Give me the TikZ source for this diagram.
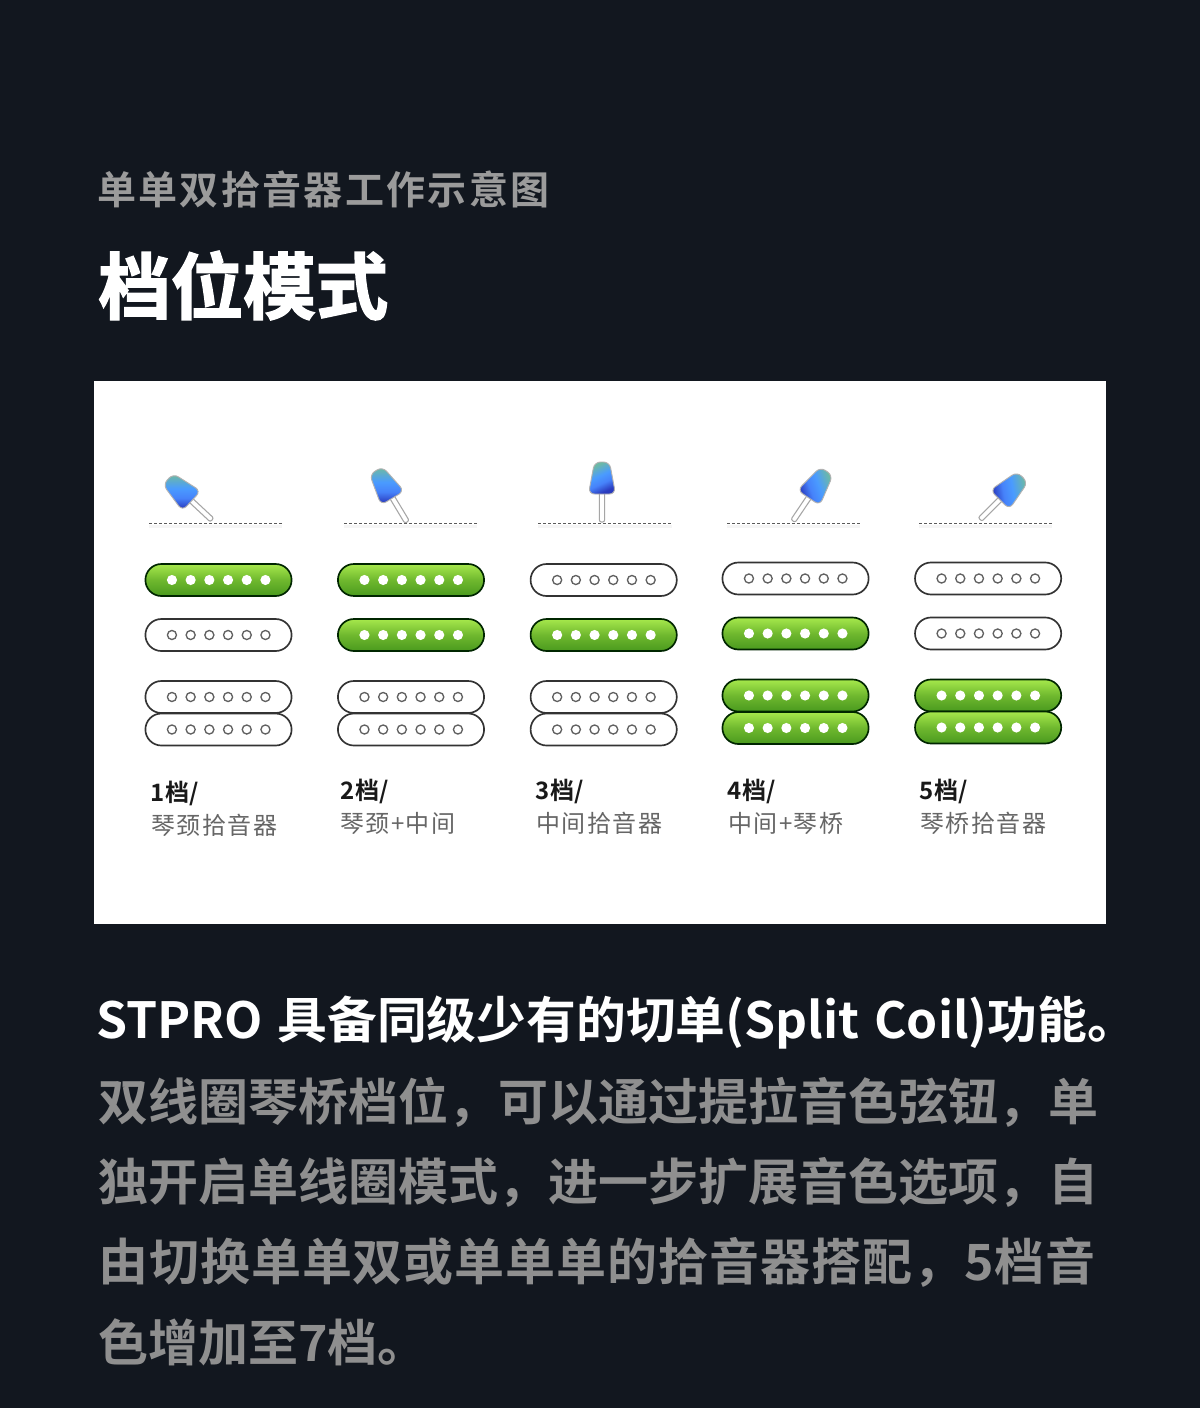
\documentclass[tikz,border=0pt]{standalone}
\usepackage{fontspec}
\setmainfont{Noto Sans CJK SC}
\newfontfamily\cjkreg{Noto Sans CJK SC}
\newfontfamily\cjkbold{Noto Sans CJK SC Bold}
\newfontfamily\cjkboldsp[LetterSpace=1.9]{Noto Sans CJK SC Bold}
\newfontfamily\cjkhead[LetterSpace=3]{Noto Sans CJK SC Bold}
\newfontfamily\cjkblack[FakeBold=2]{Noto Sans CJK SC Bold}
\newfontfamily\cjkmed[WordSpace=1.3]{Noto Sans CJK SC Bold}
\newfontfamily\cjksp[LetterSpace=6]{Noto Sans CJK SC}
\newfontfamily\cjkspb[LetterSpace=6]{Noto Sans CJK SC Bold}
\newcommand\pxs[1]{\fontsize{\the\dimexpr#1pt*3/4\relax}{\the\dimexpr#1pt*3/4\relax}\selectfont}
\definecolor{bgc}{HTML}{12171F}
\definecolor{grayt}{HTML}{8F8F8F}
\definecolor{grayh}{HTML}{9B9B9B}
\definecolor{subt}{HTML}{666666}
\definecolor{gtop}{HTML}{A6E84C}
\definecolor{gmid}{HTML}{6FB82E}
\definecolor{gbot}{HTML}{4A9A1E}
\definecolor{pedge}{HTML}{333333}
\pgfdeclareverticalshading{headgrad}{100bp}{
  rgb(0bp)=(.165,.231,.745);
  rgb(28bp)=(.165,.231,.745);
  rgb(42bp)=(.275,.51,.98);
  rgb(55bp)=(.29,.608,1);
  rgb(73bp)=(.424,.725,.651);
  rgb(100bp)=(.424,.725,.651)}
\def\onword{on}
\tikzset{
  px/.style={x=0.75pt,y=-0.75pt},
  pickupon/.style={draw=black!85!green,line width=1.25pt,top color=gtop,bottom color=gbot,middle color=gmid,rounded corners=12pt},
  pickupoff/.style={draw=pedge,line width=1.25pt,fill=white,rounded corners=12pt},
  poleon/.style={fill=white},
  poleoff/.style={draw=black!62,line width=1pt,fill=white},
  rodstyle/.style={draw=black!35,line width=0.8pt,fill=white,rounded corners=1.5pt},
  headstyle/.style={draw=black!30,line width=0.7pt,rounded corners=4.5pt,shading=headgrad},
  rail/.style={draw=black!65,line width=1.4pt,dash pattern=on 1.9pt off 1.85pt},
  railshade/.style={draw=black!4,line width=2.2pt},
  labhead/.style={anchor=west,inner sep=0pt,text=black!90},
  labsub/.style={anchor=west,inner sep=0pt,text=subt},
  bodyline/.style={anchor=west,inner sep=0pt,text=grayt},
}
\newcommand\pickup[3]{%
  \path[pickup#3] (#1-73.3,#2-16) rectangle (#1+72.9,#2+16);
  \def\pstate{#3}%
  \foreach \k in {-2.5,-1.5,-0.5,0.5,1.5,2.5}{
    \ifx\pstate\onword
      \fill[poleon] (#1+\k*18.7,#2) circle[radius=3.8pt];
    \else
      \draw[poleoff] (#1+\k*18.7,#2) circle[radius=3.4pt];
    \fi
  }%
}
\newcommand\lever[4]{% pivot x, y, rotation, shading angle
  \begin{scope}[shift={(#1,#2)},rotate=#3]
    \draw[rodstyle] (-2.6,0) -- (2.6,0) -- (2.6,-31) -- (-2.6,-31) -- cycle;
    \path[headstyle,shading angle=#4] (-13.5,-28) -- (13.5,-28) -- (7.5,-60) -- (-7.5,-60) -- cycle;
  \end{scope}%
}
\newcommand\rail[3]{%
  \draw[railshade] (#1,#3+3) -- (#2,#3+3);
  \draw[rail] (#1,#3) -- (#2,#3);
}
\begin{document}
\begin{tikzpicture}[px]
\useasboundingbox (0,0) rectangle (1200,1408);
\fill[bgc] (0,0) rectangle (1200,1408);
\node (kicker) [anchor=west,inner sep=0pt,text=grayh] at (97,189) {\cjkspb\pxs{39}单单双拾音器工作示意图};
\node (title) [anchor=west,inner sep=0pt,text=white] at (98,285.5) {\cjkblack\pxs{72.5}档位模式};
\fill[white] (94,381) rectangle (1106,924);
% switch rails and levers
\rail{149}{282}{523.5}\rail{344}{477}{523.5}\rail{538}{672}{523.5}\rail{727}{860}{523.5}\rail{919}{1052}{523.5}
\lever{212}{520}{47}{0}
\lever{407}{522}{31}{0}
\lever{602}{522}{0}{25}
\lever{793}{521}{-34}{-70}
\lever{980}{519.5}{-45}{-80}
% pickups
\pickup{218.7}{580}{on}\pickup{218.7}{635}{off}\pickup{218.7}{697}{off}\pickup{218.7}{729.5}{off}
\pickup{411.2}{580}{on}\pickup{411.2}{635}{on}\pickup{411.2}{697}{off}\pickup{411.2}{729.5}{off}
\pickup{603.9}{580}{off}\pickup{603.9}{635}{on}\pickup{603.9}{697}{off}\pickup{603.9}{729.5}{off}
\pickup{795.7}{578.5}{off}\pickup{795.7}{633.5}{on}\pickup{795.7}{695.5}{on}\pickup{795.7}{728}{on}
\pickup{988.3}{578.5}{off}\pickup{988.3}{633.5}{off}\pickup{988.3}{695.5}{on}\pickup{988.3}{727.5}{on}
% labels
\node (h1) [labhead] at (150,793.5) {\cjkhead\pxs{24}1档/};
\node (s1) [labsub] at (151,825.5) {\cjksp\pxs{24}琴颈拾音器};
\node (h2) [labhead] at (340,791) {\cjkhead\pxs{24}2档/};
\node (s2) [labsub] at (340,823) {\cjksp\pxs{24}琴颈+中间};
\node (h3) [labhead] at (535,791) {\cjkhead\pxs{24}3档/};
\node (s3) [labsub] at (536,823) {\cjksp\pxs{24}中间拾音器};
\node (h4) [labhead] at (727,791) {\cjkhead\pxs{24}4档/};
\node (s4) [labsub] at (728,823) {\cjksp\pxs{24}中间+琴桥};
\node (h5) [labhead] at (919,791) {\cjkhead\pxs{24}5档/};
\node (s5) [labsub] at (920,823) {\cjksp\pxs{24}琴桥拾音器};
% body
\node (b1) [bodyline,text=white] at (96,1023) {\cjkmed\pxs{49.8}STPRO 具备同级少有的切单(Split Coil)功能。};
\node (b2) [bodyline] at (98,1102) {\cjkbold\pxs{50}双线圈琴桥档位，可以通过提拉音色弦钮，单};
\node (b3) [bodyline] at (98,1182) {\cjkbold\pxs{50}独开启单线圈模式，进一步扩展音色选项，自};
\node (b4) [bodyline] at (98,1262) {\cjkboldsp\pxs{50}由切换单单双或单单单的拾音器搭配，5档音};
\node (b5) [bodyline] at (98,1342) {\cjkbold\pxs{50}色增加至7档。};
\end{tikzpicture}
\end{document}
